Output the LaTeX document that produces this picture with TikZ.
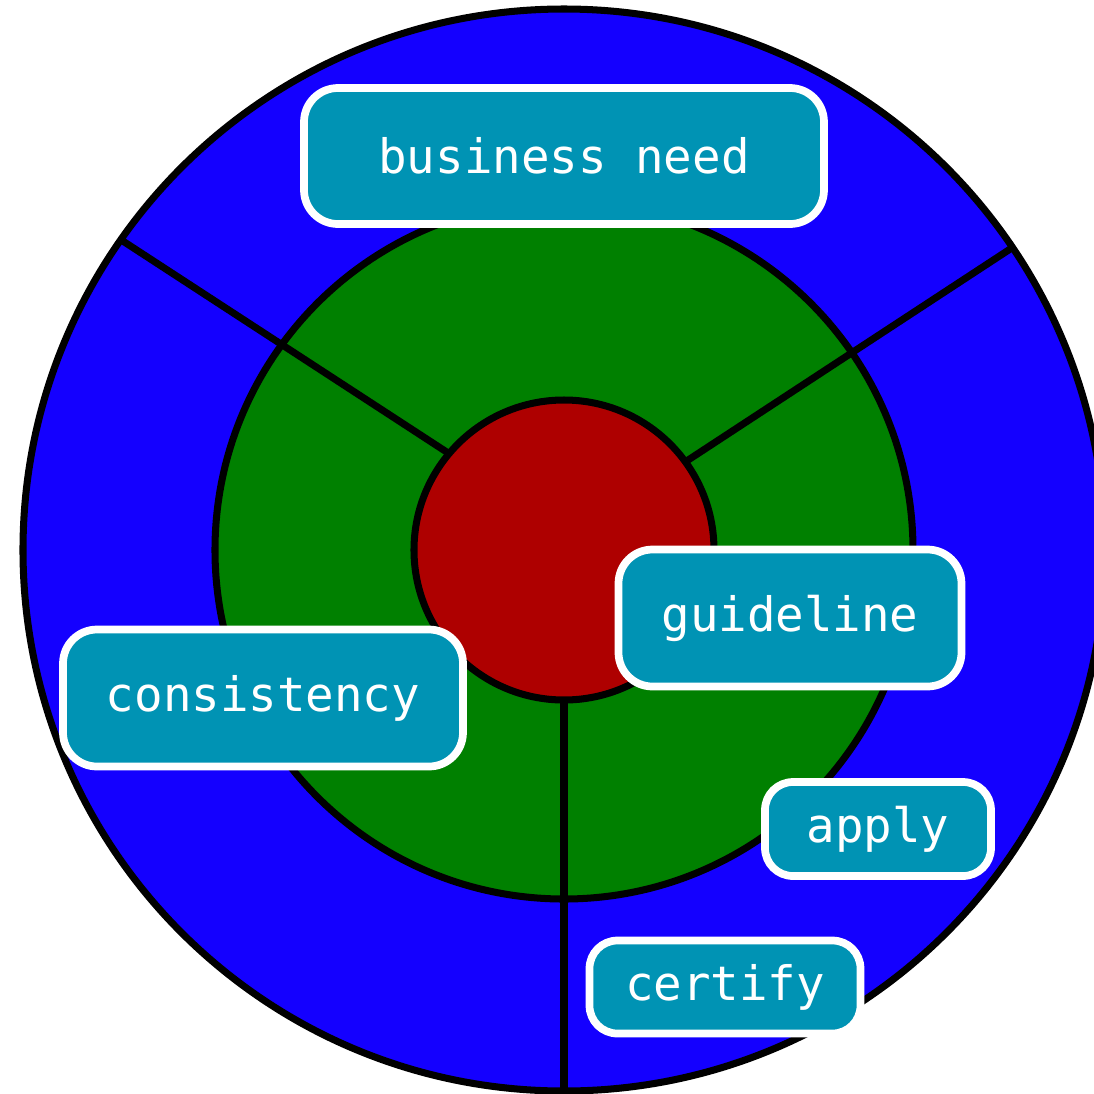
\documentclass[tikz,border=0pt]{standalone}
\usepackage{fontspec}
\setmonofont{DejaVu Sans Mono}
\usetikzlibrary{positioning}
\definecolor{ringblue}{RGB}{20,0,255}
\definecolor{ringgreen}{RGB}{0,128,0}
\definecolor{corered}{RGB}{174,0,0}
\definecolor{tagteal}{RGB}{0,147,180}

\begin{document}
\begin{tikzpicture}[
		ring/.style={circle, draw=black, line width=2pt, outer sep=0pt, inner sep=0pt},
		spoke/.style={line width=2pt},
		tag/.style={draw=white, line width=2.2pt, fill=tagteal, text=white, rounded corners=0.34cm, inner sep=0pt, font=\ttfamily\fontsize{13.5}{16}\selectfont},
	]
		\clip (-5.64, -5.43) rectangle (5.30, 5.50);
		\useasboundingbox (-5.64, -5.43) rectangle (5.30, 5.50);
		\node[ring, fill=ringblue, minimum size=10.82cm] (outer) at (0, 0) {};
		\node[ring, fill=ringgreen, minimum size=6.98cm] (mid) at (0, 0) {};
		\node[ring, fill=corered, minimum size=3cm] (core) at (0, 0) {};
		\draw[spoke] (core.140) -- (outer.145);
		\draw[spoke] (core.36) -- (outer.34);
		\draw[spoke] (core.270) -- (outer.270);
		% labels
		\node[tag, minimum width=5.20cm, minimum height=1.36cm] (need) at (0, 3.94) {business need};
		\node[tag, minimum width=3.43cm, minimum height=1.37cm] (guide) at (2.26, -0.68) {guideline};
		\node[tag, minimum width=4.00cm, minimum height=1.37cm] (cons) at (-3.01, -1.48) {consistency};
		\node[tag, minimum width=2.26cm, minimum height=0.94cm, rounded corners=0.28cm] (apply) at (3.14, -2.79) {apply};
		\node[tag, minimum width=2.71cm, minimum height=0.93cm, rounded corners=0.28cm] (cert) at (1.61, -4.37) {certify};
	\end{tikzpicture}
\end{document}
